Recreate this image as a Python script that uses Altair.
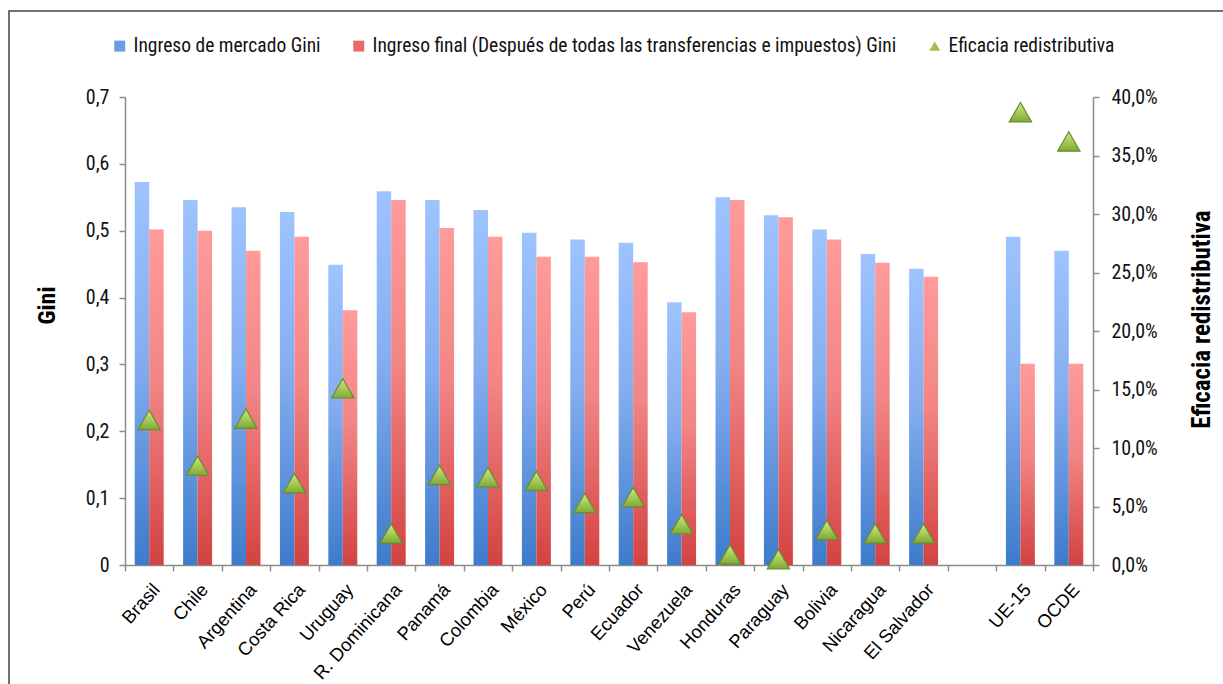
import altair as alt
import pandas as pd

# Categorías del eje X (el hueco en blanco separa los países de los agregados)
categorias = ["Brasil", "Chile", "Argentina", "Costa Rica", "Uruguay", "R. Dominicana",
              "Panamá", "Colombia", "México", "Perú", "Ecuador", "Venezuela", "Honduras",
              "Paraguay", "Bolivia", "Nicaragua", "El Salvador", " ", "UE-15", "OCDE"]
paises = [c for c in categorias if c.strip()]

gini_mercado = [0.573, 0.546, 0.535, 0.528, 0.449, 0.559, 0.546, 0.531, 0.497, 0.487,
                0.482, 0.393, 0.550, 0.523, 0.502, 0.465, 0.443, 0.491, 0.470]
gini_final = [0.502, 0.500, 0.470, 0.491, 0.381, 0.546, 0.504, 0.491, 0.461, 0.461,
              0.453, 0.378, 0.546, 0.520, 0.487, 0.452, 0.431, 0.301, 0.301]
eficacia = [12.4, 8.5, 12.5, 7.0, 15.1, 2.7, 7.7, 7.5, 7.2, 5.3,
            5.8, 3.5, 0.9, 0.5, 3.0, 2.7, 2.7, 38.7, 36.2]

s_mercado = "Ingreso de mercado Gini"
s_final = "Ingreso final (Después de todas las transferencias e impuestos) Gini"
s_eficacia = "Eficacia redistributiva"
series = [s_mercado, s_final, s_eficacia]
colores_leyenda = ["#6a9de6", "#e86b6b", "#9cc34c"]

FONT_NARROW = "Roboto Condensed, Liberation Sans, sans-serif"
FONT_LABEL = "Liberation Sans, Arial, sans-serif"

df_barras = pd.DataFrame(
    [{"pais": p, "serie": s_mercado, "gini": g} for p, g in zip(paises, gini_mercado)]
    + [{"pais": p, "serie": s_final, "gini": g} for p, g in zip(paises, gini_final)]
)
df_eficacia = pd.DataFrame({"pais": paises, "eficacia": eficacia})
df_leyenda = pd.DataFrame({"pais": [paises[0]] * 3, "leyenda": series, "v": [0, 0, 0]})


def degradado(claro, medio, oscuro):
    return {
        "gradient": "linear", "x1": 0, "y1": 0, "x2": 0, "y2": 1,
        "stops": [
            {"offset": 0, "color": claro},
            {"offset": 0.45, "color": medio},
            {"offset": 1, "color": oscuro},
        ],
    }


grad_azul = degradado("#9ec4ff", "#85aef0", "#3d7bcb")
grad_rojo = degradado("#ff9b9b", "#f28585", "#d24341")
grad_verde = degradado("#d2e88f", "#abcf5c", "#7fa838")

x_enc = alt.X(
    "pais:N",
    scale=alt.Scale(domain=categorias, paddingInner=0, paddingOuter=0),
    axis=alt.Axis(
        title=None, tickBand="extent", labelAngle=312, labelAlign="right",
        labelBaseline="top", labelFont=FONT_LABEL, labelFontSize=18.5,
        labelColor="#000000", labelPadding=9, labelOverlap=False,
        tickSize=6, tickColor="#8c8c8c", tickWidth=1.5,
        domainColor="#8c8c8c", domainWidth=1.5,
    ),
)

marco = alt.Chart(alt.Data(values=[{"k": 1}])).mark_rect(
    fill="transparent", stroke="#444444", strokeWidth=1.5
).encode(
    x=alt.value(-116), x2=alt.value(1200), y=alt.value(-86), y2=alt.value(700)
)

barras = alt.Chart(df_barras).mark_bar().encode(
    x=x_enc,
    xOffset=alt.XOffset(
        "serie:N",
        scale=alt.Scale(domain=[s_mercado, s_final], paddingInner=0, paddingOuter=0.67),
    ),
    y=alt.Y(
        "gini:Q",
        scale=alt.Scale(domain=[0, 0.7], nice=False),
        axis=alt.Axis(
            title="Gini", values=[0, 0.1, 0.2, 0.3, 0.4, 0.5, 0.6, 0.7], grid=False,
            labelExpr="datum.value == 0 ? '0' : replace(format(datum.value, '.1f'), '.', ',')",
            labelFont=FONT_NARROW, labelFontSize=20, labelColor="#111111", labelPadding=10,
            tickSize=6, tickColor="#8c8c8c", tickWidth=1.5,
            domainColor="#8c8c8c", domainWidth=1.5,
            titleFont=FONT_NARROW, titleFontSize=24, titleFontWeight="bold",
            titleColor="#000000", titleAngle=270, titleAlign="center",
            titleBaseline="middle", titleX=-78, titleY=208,
        ),
    ),
    fill=alt.condition(f"datum.serie == '{s_mercado}'", alt.value(grad_azul), alt.value(grad_rojo)),
)

triangulos = alt.Chart(df_eficacia).mark_point(
    shape="triangle-up", filled=True, size=500, fill=grad_verde,
    stroke="#6b8c2c", strokeWidth=1.2, opacity=1,
).encode(
    x=alt.X("pais:N"),
    y=alt.Y(
        "eficacia:Q",
        scale=alt.Scale(domain=[0, 40], nice=False),
        axis=alt.Axis(
            orient="right", title=s_eficacia, values=[0, 5, 10, 15, 20, 25, 30, 35, 40],
            grid=False,
            labelExpr="replace(format(datum.value, '.1f'), '.', ',') + '%'",
            labelFont=FONT_NARROW, labelFontSize=20, labelColor="#111111", labelPadding=12,
            tickSize=6, tickColor="#8c8c8c", tickWidth=1.5,
            domainColor="#8c8c8c", domainWidth=1.5,
            titleFont=FONT_NARROW, titleFontSize=25, titleFontWeight="bold",
            titleColor="#000000", titleAngle=270, titleAlign="center",
            titleBaseline="middle", titleX=108, titleY=222,
        ),
    ),
)

leyenda_def = alt.Legend(
    title=None, orient="none", legendX=-15, legendY=-61, direction="horizontal",
    columns=3, columnPadding=28, symbolSize=120, symbolOpacity=1, symbolStrokeWidth=0,
    labelFont=FONT_NARROW, labelFontSize=19.5, labelColor="#111111", labelLimit=1000,
    labelOffset=4,
)

leyenda = alt.Chart(df_leyenda).mark_point(filled=True, opacity=0).encode(
    x=alt.X("pais:N"),
    y=alt.Y("v:Q", axis=None),
    color=alt.Color("leyenda:N", scale=alt.Scale(domain=series, range=colores_leyenda),
                    legend=leyenda_def),
    shape=alt.Shape("leyenda:N",
                    scale=alt.Scale(domain=series, range=["square", "square", "triangle-up"]),
                    legend=leyenda_def),
)

chart = alt.layer(marco, barras, triangulos, leyenda).resolve_scale(
    y="independent"
).properties(
    width=968, height=468,
    autosize=alt.AutoSizeParams(type="none"),
    padding={"left": 125, "top": 97, "right": 130, "bottom": 119},
    background="#ffffff",
).configure_view(stroke=None)

chart.save("out.html", embed_options={"renderer": "svg", "actions": False})
